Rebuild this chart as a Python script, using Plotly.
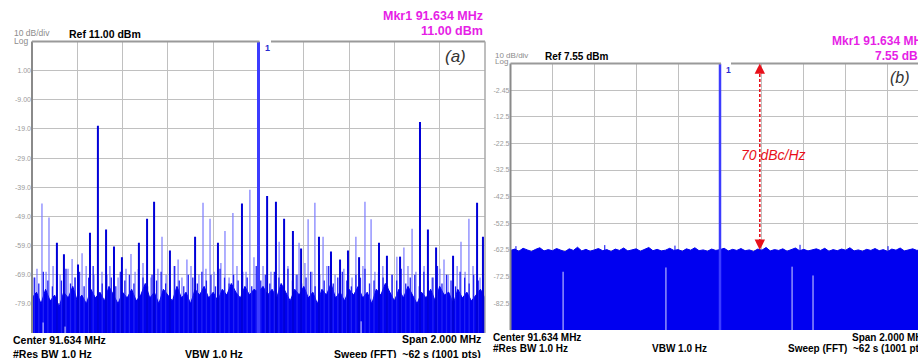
import plotly.graph_objects as go

W, H = 918, 358
FONT = "Liberation Sans"

# ---------------- Panel (a) data ----------------
a_center_mhz = 91.634
a_span_mhz = 2.0
a_ref = 11.00
a_db_div = 10
a_tick_text = ["1.00", "-9.00", "-19.0", "-29.0", "-39.0", "-49.0", "-59.0", "-69.0", "-79.0"]
a_carrier_level = 11.00

# trace floor (dBm), evenly spaced across the span
a_floor = [-77, -75, -79, -74, -78, -76, -80, -75, -77, -73, -78, -76, -79, -74, -77, -75, -78, -73, -76, -79,
           -75, -77, -74, -78, -76, -72, -77, -75, -79, -74, -76, -78, -73, -77, -75, -79, -74, -76, -73, -77,
           -75, -78, -74, -76, -72, -75, -77, -73, -76, -74, -75, -73, -76, -74, -77, -72, -75, -78, -74, -76,
           -73, -77, -75, -79, -74, -76, -72, -77, -75, -78, -74, -76, -73, -77, -75, -79, -74, -76, -72, -75,
           -78, -74, -77, -73, -76, -79, -75, -77, -74, -78, -73, -76, -75, -79, -74, -77, -75, -78, -76, -74, -77]

# in-between trace peaks (dBm), one per bin between floor points
a_mid_lvl = [-70, -72, -68, -71, -73, -69, -71, -67, -72, -70,
             -68, -73, -70, -66, -71, -72, -69, -70, -73, -68,
             -71, -69, -72, -67, -70, -73, -69, -71, -68, -72,
             -70, -66, -71, -73, -69, -70, -72, -68, -71, -69,
             -73, -67, -70, -72, -69, -71, -68, -70, -73, -66,
             -71, -69, -72, -68, -70, -73, -67, -71, -69, -72,
             -70, -68, -73, -69, -71, -66, -72, -70, -68, -71,
             -73, -69, -70, -67, -72, -71, -68, -70, -73, -69,
             -71, -67, -72, -70, -69, -73, -68, -71, -70, -66,
             -72, -69, -71, -73, -68, -70, -72, -69, -71, -70]

# strong (dark) spurs: offset from center (MHz), level (dBm)
a_strong_off = [-0.890, -0.859, -0.797, -0.744, -0.709, -0.673, -0.638, -0.603, -0.528, -0.492, -0.461, -0.391,
                -0.280, -0.179, -0.073, 0.038, 0.077, 0.113, 0.152, 0.188, 0.267, 0.320, 0.360, 0.395, 0.444,
                0.532, 0.567, 0.625, 0.713, 0.748, 0.784, 0.859, 0.965, 0.991]
a_strong_lvl = [-58, -62, -65.5, -54.6, -17.9, -53.5, -59.3, -63, -58, -49.8, -44, -60.7,
                -56, -58, -44.6, -42, -44, -49.8, -54, -60, -56, -61, -63.8, -60.7, -63,
                -58, -62.5, -62.8, -16.6, -53.5, -59.7, -62.5, -44.3, -56]

# weak (light) spurs
a_weak_off = [-1.000, -0.978, -0.956, -0.925, -0.823, -0.779, -0.563, -0.426, -0.355, -0.316, -0.245, -0.214,
              -0.148, -0.113, -0.038, 0.091, 0.179, 0.219, 0.249, 0.285, 0.430, 0.470, 0.497, 0.611, 0.642,
              0.678, 0.819, 0.894, 0.929,
              -0.987, -0.938, -0.907, -0.876, -0.841, -0.810, -0.761, -0.726, -0.691, -0.656, -0.620, -0.585,
              -0.545, -0.510, -0.475, -0.444, -0.408, -0.373, -0.338, -0.298, -0.263, -0.232, -0.196, -0.166,
              -0.130, -0.095, -0.055, -0.020, 0.020, 0.055, 0.130, 0.166, 0.205, 0.236, 0.302, 0.338, 0.377,
              0.413, 0.461, 0.514, 0.549, 0.589, 0.660, 0.695, 0.731, 0.766, 0.801, 0.837, 0.877, 0.912,
              0.947, 0.978]
a_weak_lvl = [-65, -67, -44.6, -49.4, -63.6, -61.6, -61.9, -56, -63.8, -63.8, -44.3, -49.8,
              -54, -47.8, -39.9, -57.7, -58, -50, -44.3, -56, -56, -44, -50, -62.8, -59.7,
              -53.2, -63.8, -57.7, -49.8,
              -70, -68, -66, -69, -67, -70, -66, -69, -68, -66, -70, -67,
              -68, -65, -70, -67, -69, -66, -70, -66, -69, -67, -68, -65,
              -70, -66, -68, -63, -66, -68, -66, -69, -65, -68, -66, -69, -67,
              -70, -66, -68, -66, -69, -66, -68, -66, -70, -67, -69, -66, -68,
              -66, -70]

a_dip_off = [-0.951, -0.854, 0.453]
a_dip_lvl = [-85.4, -86.8, -85.0]

# ---------------- Panel (b) data ----------------
b_center_mhz = 91.634
b_span_mhz = 2.0
b_ref = 7.55
b_db_div = 10
b_tick_text = ["-2.45", "-12.5", "-22.5", "-32.5", "-42.5", "-52.5", "-62.5", "-72.5", "-82.5"]
b_carrier_level = 7.55
b_dbc = 70

b_floor = [-62.6, -62.1, -62.9, -61.8, -62.4, -63.0, -62.2, -61.6, -62.8, -62.3, -62.7, -61.9, -62.5, -63.1,
           -62.0, -62.6, -61.4, -62.8, -62.2, -62.9, -62.4, -61.9, -62.7, -62.3, -63.0, -62.1, -62.6, -61.7,
           -62.8, -62.4, -62.0, -62.9, -62.3, -61.5, -62.7, -62.2, -62.8, -62.5, -61.8, -62.6, -62.3, -62.9,
           -62.0, -62.5, -61.6, -62.7, -62.4, -62.9, -62.1, -62.6, -62.3, -61.8, -62.8, -62.2, -62.6, -61.9,
           -62.7, -62.4, -63.0, -62.1, -62.5, -61.5, -62.8, -62.3, -62.6, -62.0, -62.9, -62.4, -61.7, -62.7,
           -62.2, -62.8, -62.5, -62.0, -62.6, -61.8, -62.9, -62.3, -62.7, -62.1, -62.5, -61.6, -62.8, -62.4,
           -62.9, -62.2, -62.6, -61.9, -62.7, -62.3, -63.0, -62.1, -62.5, -61.7, -62.8, -62.4, -62.0, -62.6,
           -62.3, -62.8, -62.5]
b_spike_off = [-0.974, -0.550, -0.215, 0.382, 0.802]
b_spike_lvl = [-61.0, -60.6, -60.8, -60.5, -61.0]
b_dip_off = [-0.749, -0.258, 0.344, 0.444]
b_dip_lvl = [-70.6, -69.0, -68.7, -72.0]

# ---------------- layout geometry (pixels) ----------------
A_L, A_R, A_T, A_B = 32, 485, 41.5, 333
B_L, B_R_FULL, B_T, B_B = 510.5, 929.5, 63.4, 330

def px(x):
    return x / W

def py(y):
    return 1 - y / H


def segs(offs, lvls, base):
    xs, ys = [], []
    for o, l in zip(offs, lvls):
        xs += [o, o, None]
        ys += [base, l, None]
    return xs, ys


def floor_poly(vals, span, base):
    n = len(vals)
    xs = [-span / 2 + span * i / (n - 1) for i in range(n)]
    return xs + [xs[-1], xs[0]], list(vals) + [base, base]


def mid_bins(vals, span):
    n = len(vals)
    return [-span / 2 + span * (i + 0.5) / n for i in range(n)]


fig = go.Figure()

FILL = "#0000f0"
DARK = "#0000d8"
LIGHT = "#7a7aff"


def add_panel(xa, ya, floor, span, bottom, strong=None, weak=None, dips=None, carrier=None,
              thin_spikes=None, mid=None):
    if weak:
        x, y = segs(weak[0], weak[1], bottom)
        fig.add_trace(go.Scatter(x=x, y=y, mode="lines", line=dict(color=LIGHT, width=1.2),
                                 xaxis=xa, yaxis=ya, hoverinfo="skip"))
    x, y = floor_poly(floor, span, bottom)
    fig.add_trace(go.Scatter(x=x, y=y, mode="lines", fill="toself", fillcolor=FILL,
                             line=dict(color=FILL, width=1), xaxis=xa, yaxis=ya, hoverinfo="skip"))
    if mid:
        x, y = segs(mid_bins(mid, span), mid, bottom)
        fig.add_trace(go.Scatter(x=x, y=y, mode="lines", line=dict(color="#2020f4", width=1.3),
                                 xaxis=xa, yaxis=ya, hoverinfo="skip"))
    if thin_spikes:
        x, y = segs(thin_spikes[0], thin_spikes[1], bottom)
        fig.add_trace(go.Scatter(x=x, y=y, mode="lines", line=dict(color=FILL, width=1),
                                 xaxis=xa, yaxis=ya, hoverinfo="skip"))
    if strong:
        x, y = segs(strong[0], strong[1], bottom)
        fig.add_trace(go.Scatter(x=x, y=y, mode="lines", line=dict(color=DARK, width=2),
                                 xaxis=xa, yaxis=ya, hoverinfo="skip"))
    if dips:
        x, y = segs(dips[0], dips[1], bottom)
        fig.add_trace(go.Scatter(x=x, y=y, mode="lines", line=dict(color="#d6d6ff", width=1),
                                 xaxis=xa, yaxis=ya, hoverinfo="skip"))
    if carrier:
        x, y = segs([0.0], [carrier[0]], bottom)
        fig.add_trace(go.Scatter(x=x, y=y, mode="lines", line=dict(color="#3c3cff", width=carrier[1]),
                                 xaxis=xa, yaxis=ya, hoverinfo="skip"))


a_bottom = a_ref - 10 * a_db_div
b_bottom = b_ref - 10 * b_db_div

add_panel("x", "y", a_floor, a_span_mhz, a_bottom,
          strong=(a_strong_off, a_strong_lvl), weak=(a_weak_off, a_weak_lvl),
          dips=(a_dip_off, a_dip_lvl), carrier=(a_carrier_level, 3), mid=a_mid_lvl)
add_panel("x2", "y2", b_floor, b_span_mhz, b_bottom,
          thin_spikes=(b_spike_off, b_spike_lvl), dips=(b_dip_off, b_dip_lvl),
          carrier=(b_carrier_level, 2.5))

GRID = "#c0c0c0"


def xaxis_cfg(domain, rng, anchor):
    return dict(domain=domain, range=rng, showgrid=True, gridcolor=GRID, gridwidth=1,
                dtick=0.2, tick0=-1, showticklabels=False, zeroline=False, showline=False,
                ticks="", fixedrange=True, anchor=anchor)


def yaxis_cfg(domain, ref, dbdiv, labels, anchor):
    vals = [ref - dbdiv * k for k in range(11)]
    text = [""] + labels + [""]
    return dict(domain=domain, range=[ref - 10 * dbdiv, ref], tickmode="array", tickvals=vals,
                ticktext=text, showgrid=True, gridcolor=GRID, gridwidth=1, zeroline=False,
                showline=False, ticks="", fixedrange=True, anchor=anchor,
                tickfont=dict(family=FONT, size=7, color="#9a9a9a"))


b_vis = -b_span_mhz / 2 + b_span_mhz * (W - B_L) / (B_R_FULL - B_L)

fig.update_layout(
    width=W, height=H, autosize=False,
    margin=dict(l=0, r=0, t=0, b=0),
    paper_bgcolor="white", plot_bgcolor="white",
    showlegend=False,
    xaxis=xaxis_cfg([px(A_L), px(A_R)], [-a_span_mhz / 2, a_span_mhz / 2], "y"),
    yaxis=yaxis_cfg([py(A_B), py(A_T)], a_ref, a_db_div, a_tick_text, "x"),
    xaxis2=xaxis_cfg([px(B_L), 1.0], [-b_span_mhz / 2, b_vis], "y2"),
    yaxis2=yaxis_cfg([py(B_B), py(B_T)], b_ref, b_db_div, b_tick_text, "x2"),
)

# ---- borders ----
shapes = []


def pline(x0, y0, x1, y1, color, width):
    shapes.append(dict(type="line", xref="paper", yref="paper", x0=px(x0), y0=py(y0),
                       x1=px(x1), y1=py(y1), line=dict(color=color, width=width), layer="above"))


# panel a
pline(A_L, A_T, A_L, A_B, "#8a8a8a", 2)
pline(A_L, A_T, 259.5, A_T, "#9a9a9a", 2)
pline(271, A_T, A_R, A_T, "#9a9a9a", 2)
pline(A_R, A_T, A_R, A_B, "#a8a8a8", 1.5)
# panel b
pline(B_L, B_T, B_L, B_B, "#8a8a8a", 2)
pline(B_L, B_T, 721, B_T, "#9a9a9a", 2)
pline(731, B_T, W, B_T, "#9a9a9a", 2)

# dashed 70 dB arrow in panel (b)
b_arrow_x = 0.19
b_noise_level = b_ref - b_dbc
shapes.append(dict(type="line", xref="x2", yref="y2", x0=b_arrow_x, x1=b_arrow_x,
                   y0=b_noise_level + 3, y1=b_ref - 3,
                   line=dict(color="#e8101a", width=1.6, dash="3px,2px"), layer="above"))
fig.update_layout(shapes=shapes)

ann = []


def text(x, y, s, size, color="#000", anchor="left", bold=False, italic=False, valign="middle"):
    ann.append(dict(x=px(x), y=py(y), xref="paper", yref="paper", text=s, showarrow=False,
                    xanchor=anchor, yanchor=valign,
                    font=dict(family=FONT, size=size, color=color,
                              weight="bold" if bold else "normal",
                              style="italic" if italic else "normal")))


MAG = "#e61ee6"
# panel a texts
text(12, 33.5, "10 dB/div", 8.5, "#8c8c8c")
text(12, 41, "Log", 8.5, "#8c8c8c")
text(67, 34, "Ref 11.00 dBm", 10.5, bold=True)
text(485, 16, "Mkr1 91.634 MHz", 12.5, MAG, anchor="right", bold=True)
text(485, 31, "11.00 dBm", 12.5, MAG, anchor="right", bold=True)
text(455, 57, "(a)", 17, "#333", anchor="center", italic=True)
text(263, 48, "1", 9, "#2a2ad0", bold=True)
text(11, 340, "Center 91.634 MHz", 10.5, bold=True)
text(11, 353.5, "#Res BW 1.0 Hz", 10.5, bold=True)
text(183, 353.5, "VBW 1.0 Hz", 10.5, bold=True)
text(483, 339, "Span 2.000 MHz", 10.5, anchor="right", bold=True)
text(483, 353.5, "Sweep (FFT)  ~62 s (1001 pts)", 10.5, anchor="right", bold=True)

# panel b texts
text(493, 55.5, "10 dB/div", 8, "#8c8c8c")
text(493, 62, "Log", 8, "#8c8c8c")
text(543, 56, "Ref 7.55 dBm", 10, bold=True)
text(929.5, 41, "Mkr1 91.634 MHz", 12, MAG, anchor="right", bold=True)
text(929.5, 55.5, "7.55 dBm", 12, MAG, anchor="right", bold=True)
text(900, 78, "(b)", 16, "#333", anchor="center", italic=True)
text(724, 70, "1", 8.5, "#2a2ad0", bold=True)
text(739, 155, "70 dBc/Hz", 14, "#e8101a", italic=True)
text(491, 337, "Center 91.634 MHz", 10, bold=True)
text(491, 348.5, "#Res BW 1.0 Hz", 10, bold=True)
text(650, 348.5, "VBW 1.0 Hz", 10, bold=True)
text(929.5, 337, "Span 2.000 MHz", 10, anchor="right", bold=True)
text(929.5, 348.5, "Sweep (FFT)  ~62 s (1001 pts)", 10, anchor="right", bold=True)

# arrowheads
ann.append(dict(x=b_arrow_x, y=b_ref, xref="x2", yref="y2", ax=0, ay=10, text="",
                showarrow=True, arrowhead=2, arrowsize=1.3, arrowwidth=1.6, arrowcolor="#e8101a"))
ann.append(dict(x=b_arrow_x, y=b_noise_level, xref="x2", yref="y2", ax=0, ay=-10, text="",
                showarrow=True, arrowhead=2, arrowsize=1.3, arrowwidth=1.6, arrowcolor="#e8101a"))

fig.update_layout(annotations=ann)

fig.write_html("out.html", config={"displayModeBar": False, "staticPlot": True},
               post_script="document.body.style.margin='0px';document.body.style.overflow='hidden';")
